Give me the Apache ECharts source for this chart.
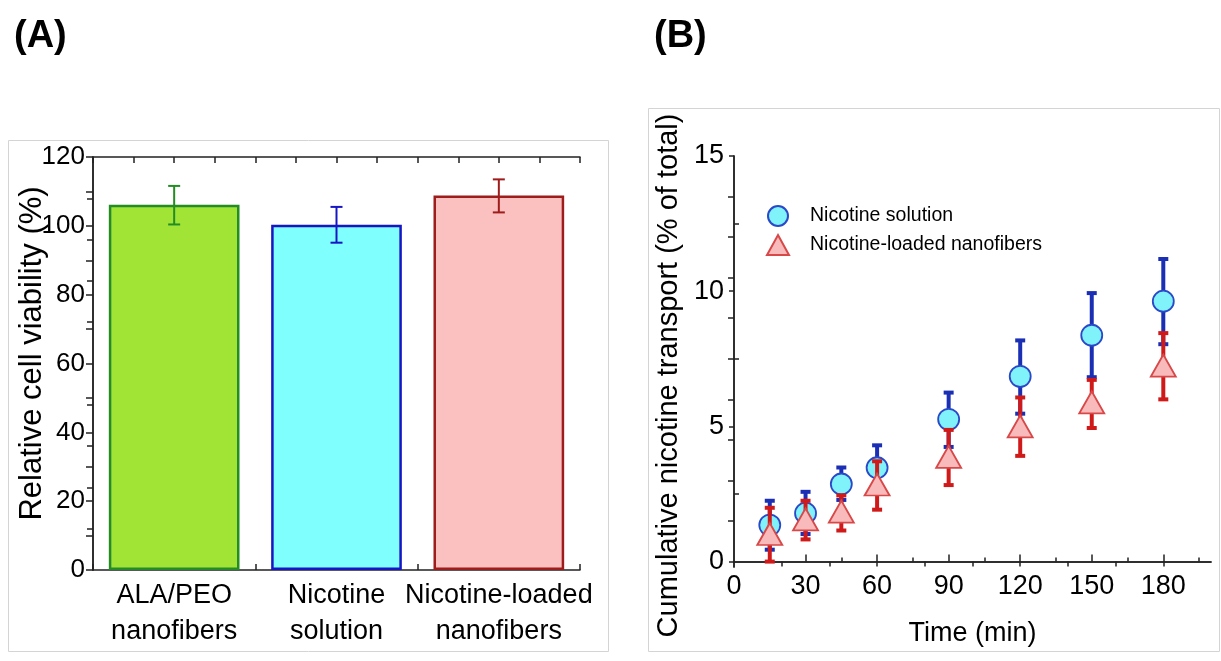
<!DOCTYPE html>
<html>
<head>
<meta charset="utf-8">
<script src="https://cdn.jsdelivr.net/npm/echarts@6/dist/echarts.min.js"></script>
<style>
  html, body { margin: 0; padding: 0; background: #fff; }
  #chart { width: 1221px; height: 661px; }
</style>
</head>
<body>
<div id="chart"></div>
<script>
// ---- panel A: cell viability ----
const viabilityCats = ['ALA/PEO\nnanofibers', 'Nicotine\nsolution', 'Nicotine-loaded\nnanofibers']
const viabilityMean = [106.1, 100.3, 108.8]
const viabilityLow = [100.4, 95.1, 103.9]
const viabilityHigh = [111.6, 105.5, 113.5]
const barFill = ['#a2e435', '#80ffff', '#fbc0c0']
const barEdge = ['#248c24', '#1616c4', '#9e1c1c']

// ---- panel B: cumulative transport ----
const timeMin = [15, 30, 45, 60, 90, 120, 150, 180]
const solMean = [1.35, 1.79, 2.87, 3.47, 5.26, 6.85, 8.37, 9.63]
const solLow = [0.44, 1.02, 2.28, 2.62, 4.24, 5.47, 6.82, 8.04]
const solHigh = [2.25, 2.58, 3.48, 4.30, 6.25, 8.18, 9.93, 11.19]
const fibMean = [1.02, 1.56, 1.85, 2.85, 3.87, 5.0, 5.89, 7.25]
const fibLow = [0.0, 0.82, 1.15, 1.92, 2.83, 3.91, 4.94, 6.0]
const fibHigh = [1.99, 2.25, 2.45, 3.71, 4.87, 6.07, 6.72, 8.45]

const xLabelVals = [0, 30, 60, 90, 120, 150, 180]
const yLabelVals = [0, 5, 10, 15]

const FONT = 'Liberation Sans, Arial, sans-serif'
const AXIS_LINE = { show: true, lineStyle: { color: '#222', width: 1.5 } }

// error bar renderer: vertical line with caps
const errorBars = (capW, lineW, colorOf) => (params, api) => {
  const x = api.value(0)
  const top = api.coord([x, api.value(2)])
  const bot = api.coord([x, api.value(1)])
  const style = { stroke: colorOf(params.dataIndex), lineWidth: lineW }
  const h = capW / 2
  return {
    type: 'group',
    children: [
      { type: 'line', shape: { x1: top[0], y1: top[1], x2: bot[0], y2: bot[1] }, style },
      { type: 'line', shape: { x1: top[0] - h, y1: top[1], x2: top[0] + h, y2: top[1] }, style },
      { type: 'line', shape: { x1: bot[0] - h, y1: bot[1], x2: bot[0] + h, y2: bot[1] }, style }
    ]
  }
}

const chart = echarts.init(document.getElementById('chart'), null, { renderer: 'canvas' })

chart.setOption({
  backgroundColor: '#fff',
  animation: false,
  textStyle: { fontFamily: FONT },
  title: [
    { text: '(A)', left: 9, top: 13, textStyle: { fontSize: 38, fontWeight: 'bold', color: '#000', fontFamily: FONT } },
    { text: '(B)', left: 649, top: 13, textStyle: { fontSize: 38, fontWeight: 'bold', color: '#000', fontFamily: FONT } }
  ],
  graphic: [
    { type: 'rect', shape: { x: 8.5, y: 140.5, width: 600, height: 511 }, style: { fill: 'none', stroke: '#d4d4d4', lineWidth: 1 }, z: -1 },
    { type: 'rect', shape: { x: 648.5, y: 108.5, width: 571, height: 543 }, style: { fill: 'none', stroke: '#d4d4d4', lineWidth: 1 }, z: -1 }
  ],
  legend: {
    data: ['Nicotine solution', 'Nicotine-loaded nanofibers'],
    orient: 'vertical',
    left: 761,
    top: 200,
    itemWidth: 22,
    itemHeight: 20,
    itemGap: 7,
    textStyle: { fontSize: 19.5, color: '#000', fontFamily: FONT, padding: [0, 0, 0, 16] }
  },
  grid: [
    { left: 93, top: 157, width: 487, height: 413 },
    { left: 734, top: 156, width: 477, height: 411 }
  ],
  xAxis: [
    // A: categories
    {
      type: 'category', gridIndex: 0, data: viabilityCats, position: 'bottom',
      axisLine: AXIS_LINE, axisTick: { show: false },
      axisLabel: { fontSize: 27, lineHeight: 36, color: '#000', margin: 8, interval: 0 }
    },
    // A: bottom tick marks at half categories
    {
      type: 'value', gridIndex: 0, position: 'bottom', min: 0, max: 6, interval: 1,
      axisLine: { show: false }, axisLabel: { show: false }, splitLine: { show: false },
      axisTick: { inside: true, length: 6, lineStyle: { color: '#222', width: 1.5 } }
    },
    // A: top frame
    {
      type: 'value', gridIndex: 0, position: 'top', min: 0, max: 6, interval: 1,
      axisLine: AXIS_LINE, axisLabel: { show: false }, splitLine: { show: false },
      axisTick: { inside: true, length: 6, lineStyle: { color: '#222', width: 1.5 } },
      minorTick: { show: true, splitNumber: 2, length: 6, lineStyle: { color: '#222', width: 1.5 } }
    },
    // B: time axis
    {
      type: 'value', gridIndex: 1, position: 'bottom', min: 0, max: 200,
      name: 'Time (min)', nameLocation: 'middle', nameGap: 53,
      nameTextStyle: { fontSize: 27, color: '#000' },
      axisLine: AXIS_LINE, splitLine: { show: false },
      axisLabel: { customValues: xLabelVals, fontSize: 27, color: '#000', margin: 6 },
      axisTick: { customValues: [30, 60, 90, 120, 150, 180], inside: true, length: 7, lineStyle: { color: '#222', width: 1.5 } }
    },
    // B: minor bottom ticks
    {
      type: 'value', gridIndex: 1, position: 'bottom', min: 0, max: 200,
      axisLine: { show: false }, axisLabel: { show: false }, splitLine: { show: false },
      axisTick: { customValues: [15, 45, 75, 105, 135, 165, 195], inside: true, length: 4, lineStyle: { color: '#222', width: 1.5 } }
    },
    // B: top frame
    {
      type: 'value', gridIndex: 1, position: 'top', min: 0, max: 200,
      axisLine: AXIS_LINE, axisLabel: { show: false }, splitLine: { show: false },
      axisTick: { customValues: [20, 40, 60, 80, 100, 120, 140, 160, 180], inside: true, length: 5, lineStyle: { color: '#222', width: 1.5 } }
    }
  ],
  yAxis: [
    // A: viability
    {
      type: 'value', gridIndex: 0, min: 0, max: 120, interval: 20,
      name: 'Relative cell viability (%)', nameLocation: 'middle', nameGap: 45, nameMoveOverlap: false,
      nameTextStyle: { fontSize: 31, color: '#000', padding: [0, 0, 0, 20] },
      axisLine: AXIS_LINE, splitLine: { show: false },
      axisLabel: { fontSize: 26, color: '#000', margin: 8 },
      axisTick: { length: 7, lineStyle: { color: '#222', width: 1.5 } },
      minorTick: { show: true, splitNumber: 2, length: 7, lineStyle: { color: '#222', width: 1.5 } }
    },
    // A: right frame
    {
      type: 'value', gridIndex: 0, position: 'right', min: 0, max: 120, interval: 12,
      axisLine: AXIS_LINE, axisLabel: { show: false }, splitLine: { show: false },
      axisTick: { inside: true, length: 6, lineStyle: { color: '#222', width: 1.5 } }
    },
    // B: transport
    {
      type: 'value', gridIndex: 1, min: -0.2, max: 15,
      name: 'Cumulative nicotine transport (% of total)', nameLocation: 'middle', nameGap: 51,
      nameTextStyle: { fontSize: 29, color: '#000', padding: [0, 28, 0, 0] },
      axisLine: AXIS_LINE, splitLine: { show: false },
      axisLabel: { customValues: yLabelVals, fontSize: 27, color: '#000', margin: 10 },
      axisTick: { customValues: yLabelVals, length: 5, lineStyle: { color: '#222', width: 1.5 } }
    },
    // B: left minor ticks
    {
      type: 'value', gridIndex: 1, position: 'left', min: -0.2, max: 15,
      axisLine: { show: false }, axisLabel: { show: false }, splitLine: { show: false },
      axisTick: { customValues: [2.5, 7.5, 12.5], inside: true, length: 5, lineStyle: { color: '#222', width: 1.5 } }
    },
    // B: right frame
    {
      type: 'value', gridIndex: 1, position: 'right', min: -0.2, max: 15,
      axisLine: AXIS_LINE, axisLabel: { show: false }, splitLine: { show: false },
      axisTick: { customValues: [1.5, 3, 4.5, 6, 7.5, 9, 10.5, 12, 13.5], inside: true, length: 6, lineStyle: { color: '#222', width: 1.5 } }
    }
  ],
  series: [
    {
      type: 'bar', xAxisIndex: 0, yAxisIndex: 0, barWidth: '80.5%',
      data: viabilityMean.map((v, i) => ({
        value: v,
        itemStyle: { color: barFill[i], borderColor: barEdge[i], borderWidth: 2.5 }
      })),
      z: 2
    },
    {
      type: 'custom', xAxisIndex: 0, yAxisIndex: 0,
      renderItem: errorBars(12, 2, i => barEdge[i]),
      encode: { x: 0, y: [1, 2] },
      data: viabilityMean.map((v, i) => [i, viabilityLow[i], viabilityHigh[i]]),
      z: 3
    },
    {
      name: 'solution err', type: 'custom', xAxisIndex: 3, yAxisIndex: 2,
      renderItem: errorBars(10, 4, () => '#1a2fb4'),
      encode: { x: 0, y: [1, 2] },
      data: timeMin.map((t, i) => [t, solLow[i], solHigh[i]]),
      z: 3
    },
    {
      name: 'Nicotine solution', type: 'scatter', xAxisIndex: 3, yAxisIndex: 2,
      symbol: 'circle', symbolSize: 21,
      itemStyle: { color: '#7ff2fa', borderColor: '#2a48c8', borderWidth: 1.8, opacity: 1 },
      data: timeMin.map((t, i) => [t, solMean[i]]),
      z: 4
    },
    {
      name: 'fibers err', type: 'custom', xAxisIndex: 3, yAxisIndex: 2,
      renderItem: errorBars(10, 4, () => '#d01a1a'),
      encode: { x: 0, y: [1, 2] },
      data: timeMin.map((t, i) => [t, fibLow[i], fibHigh[i]]),
      z: 5
    },
    {
      name: 'Nicotine-loaded nanofibers', type: 'scatter', xAxisIndex: 3, yAxisIndex: 2,
      symbol: 'triangle', symbolSize: [25, 22],
      itemStyle: { color: '#f8baba', borderColor: '#d84848', borderWidth: 1.8, opacity: 1 },
      data: timeMin.map((t, i) => [t, fibMean[i]]),
      z: 6
    }
  ]
})
</script>
</body>
</html>
